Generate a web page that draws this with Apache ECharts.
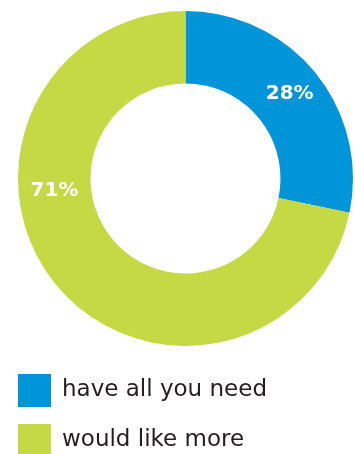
<!DOCTYPE html>
<html>
<head>
<meta charset="utf-8">
<script src="https://cdn.jsdelivr.net/npm/echarts@6/dist/echarts.min.js"></script>
<style>
html,body{margin:0;padding:0;background:#fff;}
#chart{width:355px;height:454px;}
</style>
</head>
<body>
<div id="chart"></div>
<script>
var categories = ['have all you need', 'would like more'];
var values = [28, 71];
var colors = ['#0094d9', '#c4d943'];

var chart = echarts.init(document.getElementById('chart'), null, {renderer: 'canvas'});
var legendTops = [374, 424];
var option = {
  animation: false,
  color: colors,
  legend: categories.map(function (c, i) {
    return {
      orient: 'vertical',
      left: 18,
      top: legendTops[i],
      padding: 0,
      itemWidth: 33,
      itemHeight: 33,
      icon: 'rect',
      selectedMode: false,
      data: [c],
      textStyle: {
        color: '#231f20',
        fontSize: 23,
        fontFamily: 'DejaVu Sans',
        padding: [0, 0, 0, 6]
      }
    };
  }),
  series: [{
    type: 'pie',
    center: [185.5, 178.5],
    radius: [95, 167.5],
    startAngle: 90,
    clockwise: true,
    avoidLabelOverlap: false,
    emphasis: {disabled: true},
    itemStyle: {borderWidth: 0},
    label: {
      show: true,
      position: 'inside',
      formatter: function (p) { return p.value + '%'; },
      color: '#ffffff',
      fontSize: 20,
      fontWeight: 'bold',
      fontFamily: 'DejaVu Sans'
    },
    labelLine: {show: false},
    labelLayout: function (params) {
      if (params.dataIndex === 1) {
        return {x: 54.5, y: 191, align: 'center', verticalAlign: 'middle'};
      }
      return {};
    },
    data: categories.map(function (c, i) { return {name: c, value: values[i]}; })
  }]
};
chart.setOption(option);
</script>
</body>
</html>
